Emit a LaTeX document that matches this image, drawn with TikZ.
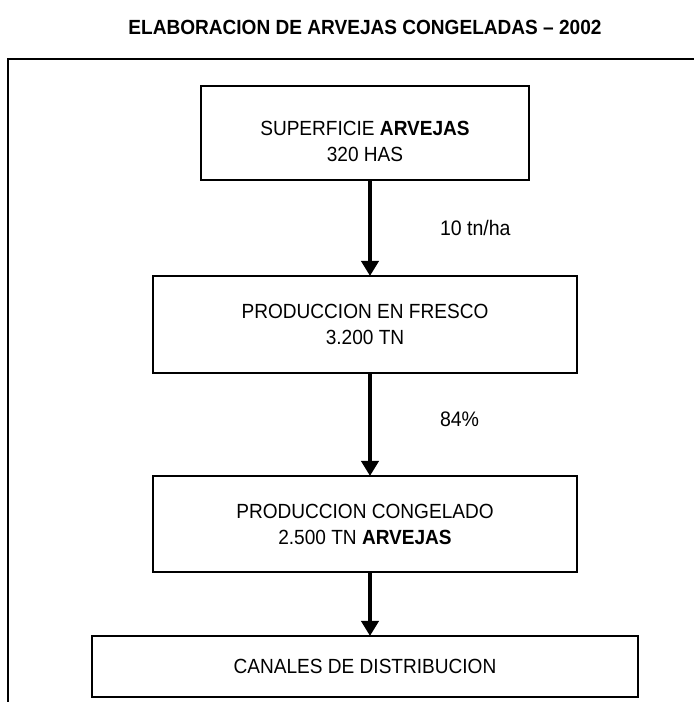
\documentclass[tikz,border=0pt]{standalone}
\usepackage{fontspec}
\setmainfont{Liberation Sans}[FakeStretch=0.93]
\usetikzlibrary{arrows.meta,positioning}
\tikzset{
block/.style = {draw, line width=2pt, fill=white, rectangle, align=center, inner sep=0pt, outer sep=0pt, font=\fontsize{20.5}{26}\selectfont},
titlebox/.style = {inner sep=0pt, font=\fontsize{20.5}{24}\selectfont\bfseries},
rate/.style = {inner sep=0pt, font=\fontsize{21}{24}\selectfont},
flow/.style = {->, line width=4pt},
frame/.style = {line width=2pt}
}

\begin{document}
\begin{tikzpicture}[auto, >={Triangle[width=17pt,length=15pt]}]
    \useasboundingbox (0,0) rectangle (694pt,702pt);
    \node[titlebox] (title) at (365pt,675pt) {ELABORACION DE ARVEJAS CONGELADAS -- 2002};
    \draw[frame] (8pt,0pt) |- (694pt,643pt);

    \node[block, minimum width=328pt, minimum height=94pt] (n1) at (365pt,569pt) {\rule{0pt}{31pt}SUPERFICIE \textbf{ARVEJAS}\\320 HAS};
    \node[block, minimum width=424pt, minimum height=97pt, below=96pt of n1] (n2) {PRODUCCION EN FRESCO\\3.200 TN};
    \node[block, minimum width=424pt, minimum height=96pt, below=103pt of n2] (n3) {PRODUCCION CONGELADO\\2.500 TN \textbf{ARVEJAS}};
    \node[block, minimum width=546pt, minimum height=61pt, below=64pt of n3] (n4) {CANALES DE DISTRIBUCION};

    \draw[flow] ([xshift=5pt]n1.south) -- ([xshift=5pt]n2.north) node[rate, midway, anchor=west, xshift=68pt] (r1) {10 tn/ha};
    \draw[flow] ([xshift=5pt]n2.south) -- ([xshift=5pt]n3.north) node[rate, midway, anchor=west, xshift=68pt, yshift=5pt] (r2) {84\%};
    \draw[flow] ([xshift=5pt]n3.south) -- ([xshift=5pt]n4.north);
\end{tikzpicture}
\end{document}
